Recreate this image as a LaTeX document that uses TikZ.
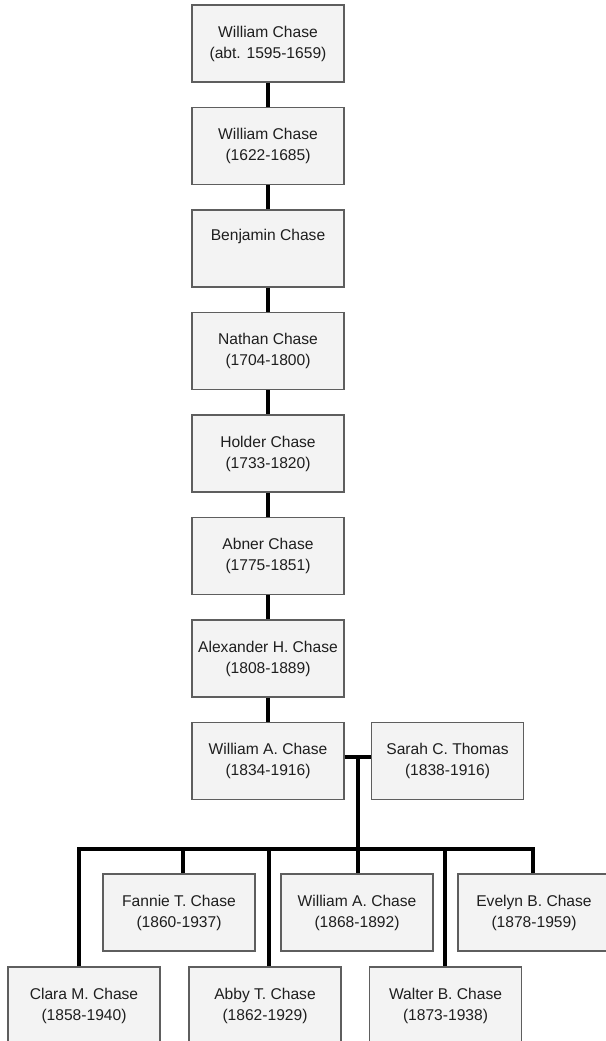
\documentclass[tikz,border=0pt]{standalone}
\usepackage{fontspec}
\setmainfont{Liberation Sans}
\usetikzlibrary{calc}
\definecolor{boxfill}{HTML}{F3F3F3}
\definecolor{boxline}{HTML}{5E5E5E}
\definecolor{txt}{HTML}{1E1E1E}
\tikzset{
  person/.style={draw=boxline, line width=1.1pt, fill=boxfill, minimum width=152pt, minimum height=77pt,
    inner sep=0pt, align=center, text=txt, font=\fontsize{15.6pt}{21pt}\selectfont},
  conn/.style={line width=4.8pt, black, line join=miter}
}
\begin{document}
\begin{tikzpicture}[x=1pt,y=-1pt]
\useasboundingbox (0,0) rectangle (605,1041);
\fill[white] (0,0) rectangle (605,1041);
% main line
\node[person] (p0) at (268,43.5) {William Chase\\(abt. 1595-1659)};
\node[person] (p1) at (268,146) {William Chase\\(1622-1685)};
\node[person] (p2) at (268,248.5) {Benjamin Chase\\\strut};
\node[person] (p3) at (268,351) {Nathan Chase\\(1704-1800)};
\node[person] (p4) at (268,453.5) {Holder Chase\\(1733-1820)};
\node[person] (p5) at (268,556) {Abner Chase\\(1775-1851)};
\node[person] (p6) at (268,658.5) {Alexander H. Chase\\(1808-1889)};
\node[person] (p7) at (268,761) {William A. Chase\\(1834-1916)};
\node[person] (sc) at (447.5,761) {Sarah C. Thomas\\(1838-1916)};
% children
\node[person] (fa) at (179,912.5) {Fannie T. Chase\\(1860-1937)};
\node[person] (wi) at (357,912.5) {William A. Chase\\(1868-1892)};
\node[person] (ev) at (534,912.5) {Evelyn B. Chase\\(1878-1959)};
\node[person] (cl) at (84,1005.5) {Clara M. Chase\\(1858-1940)};
\node[person] (ab) at (265,1005.5) {Abby T. Chase\\(1862-1929)};
\node[person] (wa) at (445.5,1005.5) {Walter B. Chase\\(1873-1938)};
% vertical links
\foreach \a/\b in {p0/p1,p1/p2,p2/p3,p3/p4,p4/p5,p5/p6,p6/p7}
  \draw[conn] (\a.south) -- (\b.north);
% marriage
\coordinate (m) at (358,757);
\coordinate (j) at (358,849);
\draw[conn] (p7.east |- m) -- (sc.west |- m);
\draw[conn] (m) -- (j);
% bus drop positions
\coordinate (dC) at (79,849);
\coordinate (dF) at (183,849);
\coordinate (dA) at (269,849);
\coordinate (dW) at (445,849);
\coordinate (dE) at (533,849);
\draw[conn] (dC |- cl.north) -- (dC) -- (dE) -- (dE |- ev.north);
\draw[conn] (dF) -- (dF |- fa.north);
\draw[conn] (dA) -- (dA |- ab.north);
\draw[conn] (j) -- (j |- wi.north);
\draw[conn] (dW) -- (dW |- wa.north);
\end{tikzpicture}
\end{document}
